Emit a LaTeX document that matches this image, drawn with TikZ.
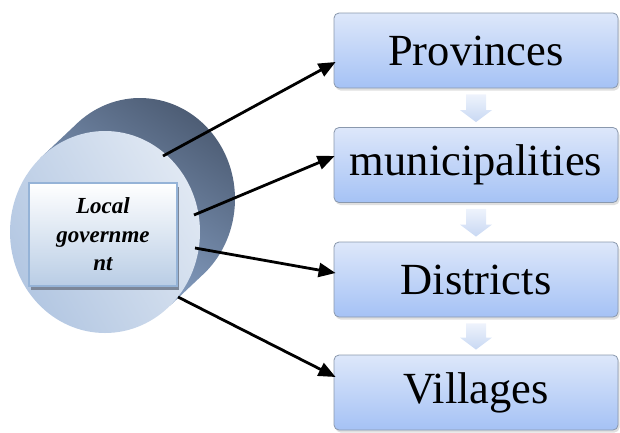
\documentclass[tikz,border=0pt]{standalone}
\usepackage{fontspec}
\setmainfont{Liberation Serif}
\usetikzlibrary{arrows.meta,shadows,calc}
\definecolor{boxtop}{HTML}{DDE7FA}
\definecolor{boxbot}{HTML}{A5C2F5}
\definecolor{boxline}{HTML}{8A98AD}
\definecolor{arrtop}{HTML}{EEF3FC}
\definecolor{arrbot}{HTML}{C8D8F3}
\definecolor{cyltop}{HTML}{4A5970}
\definecolor{cylbot}{HTML}{90ABD1}
\definecolor{frontA}{HTML}{E0E8F3}
\definecolor{frontB}{HTML}{B3C7E2}
\definecolor{lgline}{HTML}{95B3D7}
\definecolor{lgbot}{HTML}{B9CDE5}
\definecolor{lgshadow}{HTML}{7C8799}
\begin{document}
\begin{tikzpicture}[x=1pt,y=-1pt,
  levelbox/.style={draw=boxline, line width=0.8pt, rounded corners=5pt,
    top color=boxtop, bottom color=boxbot,
    minimum width=284pt, minimum height=75pt, inner sep=0pt,
    font=\fontsize{44.5}{48}\selectfont,
    drop shadow={opacity=0.25, shadow xshift=1.5pt, shadow yshift=-2.5pt}},
  lgbox/.style={draw=lgline, line width=2pt, top color=white, bottom color=lgbot,
    minimum width=148pt, minimum height=103pt, inner sep=0pt, align=center,
    font=\fontsize{23}{28.5}\selectfont\bfseries\itshape,
    drop shadow={fill=lgshadow, opacity=1, shadow xshift=2pt, shadow yshift=-4pt}},
  conn/.style={line width=2.8pt, -{Triangle[length=17pt,width=14pt]}},
  downarrow/.style={top color=arrtop, bottom color=arrbot, draw=none}
]
\useasboundingbox (0,0) rectangle (620,432);

% cylinder back (extrusion)
\coordinate (F) at (105,232);
\coordinate (B) at (140,199);
\shade[top color=cyltop, bottom color=cylbot, shading angle=-35]
  ($(F)+(-133.3:95 and 101)$) -- ($(B)+(-133.3:95 and 101)$)
  arc[start angle=-133.3, end angle=46.7, x radius=95, y radius=101]
  -- ($(F)+(46.7:95 and 101)$) -- cycle;
% front face
\shade[left color=frontA, right color=frontB, shading angle=-60]
  (F) ellipse[x radius=95, y radius=101];

\node[lgbox] (lg) at (103,234.5) {Local\\governme\\nt};

% level boxes
\node[levelbox] (p1) at (476,50.5) {Provinces};
\node[levelbox] (p2) at (476,165) {municipalities};
\node[levelbox] (p3) at (476,279.5) {Districts};
\node[levelbox] (p4) at (476,392.5) {Villages};

% down block arrows
\foreach \a/\b in {p1/p2,p2/p3,p3/p4}{
  \shade[downarrow]
    ($(\a.south)+(-10,6)$) -- ($(\a.south)+(10,6)$) --
    ($(\b.north)+(10,-17)$) -- ($(\b.north)+(16,-17)$) --
    ($(\b.north)+(0,-5)$) --
    ($(\b.north)+(-16,-17)$) -- ($(\b.north)+(-10,-17)$) -- cycle;
}

% connectors
\coordinate (s1) at (163,156);
\coordinate (s2) at (194,215);
\coordinate (s3) at (195,248);
\coordinate (s4) at (178,297);
\draw[conn] (s1) -- ([yshift=-11.5pt,xshift=2pt]p1.west);
\draw[conn] (s2) -- ([yshift=9pt,xshift=1pt]p2.west);
\draw[conn] (s3) -- ([yshift=6.5pt,xshift=2pt]p3.west);
\draw[conn] (s4) -- ([yshift=15.5pt,xshift=2pt]p4.west);
\end{tikzpicture}
\end{document}
